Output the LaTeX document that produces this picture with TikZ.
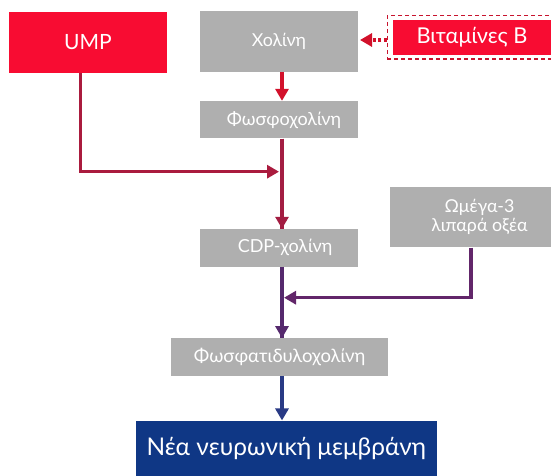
\documentclass[tikz,border=0pt]{standalone}
\usepackage{fontspec}
\setmainfont{Lato}
\usetikzlibrary{arrows.meta}
\definecolor{cred}{HTML}{F80C32}
\definecolor{cgray}{HTML}{AFAFAF}
\definecolor{cnavy}{HTML}{0F3785}
\definecolor{ared}{HTML}{D2112B}
\definecolor{aframe}{HTML}{C8142E}
\definecolor{acrim}{HTML}{A31D42}
\definecolor{apurp}{HTML}{55296D}
\definecolor{aomeg}{HTML}{62266A}
\definecolor{anavy}{HTML}{293A85}
\tikzset{
  box/.style={rectangle, inner sep=0pt, text=white, align=center},
  redbox/.style={box, fill=cred},
  graybox/.style={box, fill=cgray},
  navybox/.style={box, fill=cnavy},
  conn/.style={line width=3.1pt, -{Triangle[width=13pt,length=12pt]}},
  plainline/.style={line width=3.1pt},
}
\begin{document}
\begin{tikzpicture}[x=1pt,y=-1pt]
\useasboundingbox (0,0) rectangle (551,476);
\clip (0,0) rectangle (551,476);
\coordinate (ax) at (282,0);
\coordinate (ux) at (80.7,0);
\coordinate (ox) at (471,0);

\node[redbox, minimum width=158pt, minimum height=60.7pt, font=\fontsize{21}{24}\selectfont] (ump) at (88,42.3) {UMP};
\node[graybox, minimum width=158pt, minimum height=60.7pt, font=\fontsize{17.8}{20}\selectfont] (chol) at (279,41.3) {Χολίνη};
\node[redbox, minimum width=158pt, minimum height=35pt, font=\fontsize{21.8}{24}\selectfont] (vit) at (472,37.5) {Βιταμίνες Β};
\node[draw=aframe, dash pattern=on 4pt off 3pt, line width=1.4pt, minimum width=174.7pt, minimum height=43.3pt, inner sep=0pt] (vitframe) at (474.7,37.3) {};
\node[graybox, minimum width=158pt, minimum height=37.3pt, font=\fontsize{18}{20}\selectfont] (phos) at (279,119.7) {\hspace*{10pt}Φωσφοχολίνη};
\node[graybox, minimum width=158pt, minimum height=37.7pt, font=\fontsize{18}{20}\selectfont] (cdp) at (279,247.8) {\hspace*{12pt}CDP-χολίνη};
\node[graybox, minimum width=161pt, minimum height=60.6pt, font=\fontsize{17.8}{19.5}\selectfont] (omega) at (470.5,217) {\hspace*{18pt}Ωμέγα-3\\\hspace*{18pt}λιπαρά οξέα};
\node[graybox, minimum width=217.3pt, minimum height=37.4pt, font=\fontsize{18.5}{20}\selectfont] (ptc) at (279.7,357) {Φωσφατιδυλοχολίνη};
\node[navybox, minimum width=300.7pt, minimum height=55.3pt, font=\fontsize{24.4}{27}\selectfont] (nea) at (286.3,448.3) {Νέα νευρωνική μεμβράνη};

\coordinate (uc) at (80.7,171.7);
\coordinate (oc) at (471,297.7);

\draw[conn, ared, dash pattern=on 3pt off 2.5pt] (vitframe.west |- 0,40) -- (360,40);
\draw[conn, ared] (chol.south -| ax) -- (phos.north -| ax);
\draw[plainline, acrim] (phos.south -| ax) -- (cdp.north -| ax);
\draw[conn, acrim] (phos.south -| ax) -- (cdp.north -| ax);
\draw[conn, acrim!85!ared] (ump.south -| ux) -- (uc) -- (uc -| 279,0);
\draw[plainline, apurp] (cdp.south -| ax) -- (ptc.north -| ax);
\draw[conn, apurp] (cdp.south -| ax) -- (ptc.north -| ax);
\draw[conn, aomeg] (omega.south -| ox) -- (oc) -- (oc -| 284,0);
\draw[conn, anavy] (ptc.south -| ax) -- (nea.north -| ax);
\end{tikzpicture}
\end{document}
